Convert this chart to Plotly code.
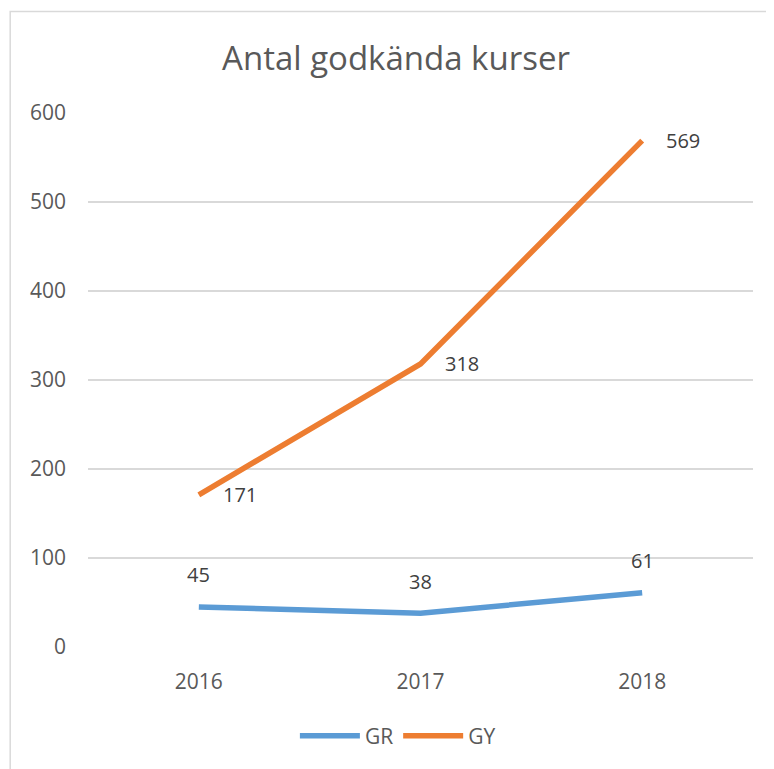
import plotly.graph_objects as go

years = ["2016", "2017", "2018"]
gr_values = [45, 38, 61]
gy_values = [171, 318, 569]
y_ticks = [0, 100, 200, 300, 400, 500, 600]

FONT = "Open Sans"
TXT = "#595959"
LBL = "#404040"

fig = go.Figure()
fig.add_trace(go.Scatter(x=years, y=gr_values, name="GR", mode="lines",
                         line=dict(color="#5B9BD5", width=5.5)))
fig.add_trace(go.Scatter(x=years, y=gy_values, name="GY", mode="lines",
                         line=dict(color="#ED7D31", width=5.5)))

# data labels (category index used as annotation x on the category axis)
for i, v in enumerate(gr_values):
    fig.add_annotation(x=i, y=v, text=str(v), showarrow=False, yshift=32,
                       font=dict(family=FONT, size=20, color=LBL))
for i, v in enumerate(gy_values):
    fig.add_annotation(x=i, y=v, text=str(v), showarrow=False, xshift=41, yshift=0,
                       font=dict(family=FONT, size=20, color=LBL))

# chart-area border
fig.add_shape(type="rect", xref="paper", yref="paper", x0=-0.117, x1=1.3, y0=-0.5, y1=1.19,
              line=dict(color="#D9D9D9", width=1.5), fillcolor="rgba(0,0,0,0)", layer="below")

fig.update_layout(
    width=766, height=761,
    margin=dict(l=80, r=21, t=105, b=116),
    paper_bgcolor="white", plot_bgcolor="white",
    title=dict(text="Antal godkända kurser", x=0.5065, xanchor="center", y=0.934, yanchor="middle",
               font=dict(family=FONT, size=33, color=TXT)),
    xaxis=dict(type="category", range=[-0.5, 2.5], showgrid=False, showline=False, zeroline=False,
               ticks="", ticklabelstandoff=20, tickfont=dict(family=FONT, size=21, color=TXT)),
    yaxis=dict(range=[0, 600], tickvals=y_ticks, showgrid=True, gridcolor="#D9D9D9", gridwidth=1.5,
               zeroline=False, showline=False, ticks="", ticklabelstandoff=21,
               tickfont=dict(family=FONT, size=21, color=TXT)),
    legend=dict(orientation="h", x=0.466, xanchor="center", y=-0.167, yanchor="middle",
                itemwidth=60, font=dict(family=FONT, size=21, color=TXT)),
    showlegend=True,
)
fig.write_html("out.html")
